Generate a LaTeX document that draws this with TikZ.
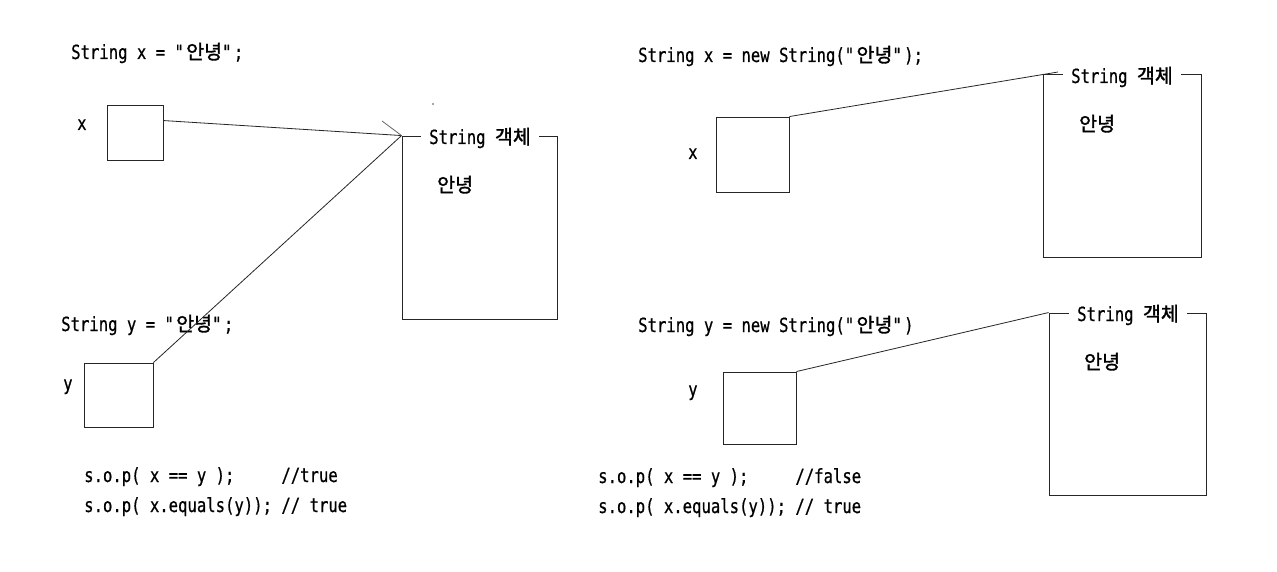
\documentclass[tikz,border=0pt]{standalone}
\usepackage{fontspec}
\setmainfont{DejaVu Sans Mono}[FakeStretch=0.8,FakeBold=0.6]
\newfontfamily\krfont{Noto Sans CJK KR}[Scale=1.0,FakeBold=1.6]
\newcommand\kr[1]{{\krfont #1}}
\newcommand\q{\textquotedbl}
\begin{document}
\begin{tikzpicture}[x=1pt,y=-1pt,font=\fontsize{19.5}{23}\selectfont,
  txt/.style={anchor=base west,inner sep=0pt,text=black},
  var/.style={draw=black!85,line width=0.9pt,inner sep=0pt},
  obj/.style={draw=black!85,line width=0.9pt,inner sep=0pt},
  ttl/.style={anchor=base west,fill=white,inner xsep=8pt,inner ysep=1pt,text=black},
  link/.style={draw=black!85,line width=0.8pt}]
\fill[white] (0,0) rectangle (1277,572);
\useasboundingbox (0,0) rectangle (1277,572);

% ---------- left panel ----------
\node[txt] (lxdecl) at (71,59) {String x = \q\kr{안녕}\q;};
\node[txt] (lxlab) at (77,130) {x};
\node[var,minimum width=56pt,minimum height=55pt] (lx) at (135,132.5) {};

\node[obj,minimum width=155pt,minimum height=183pt] (lo) at (479.5,227.5) {};
\node[ttl] (lot) at (421,144) {String \kr{객체}};
\node[txt] (loval) at (437,192) {\kr{안녕}};

\node[txt] (lydecl) at (61,331) {String y = \q\kr{안녕}\q;};
\node[txt] (lylab) at (63,390) {y};
\node[var,minimum width=69pt,minimum height=64pt] (ly) at (118.5,395) {};

\node[txt] (lc1) at (84,482) {s.o.p(~x~==~y~);~~~~~//true};
\node[txt] (lc2) at (84,512) {s.o.p(~x.equals(y));~//~true};

\coordinate (tick) at (382,121);
\coordinate (dot) at (433,104);
\draw[link] ([yshift=-16pt]lx.north east) -- (lo.north west);
\draw[link] (ly.north east) -- (lo.north west);
\draw[link,draw=black!60] (tick) -- (lo.north west);
\fill[black!70] (dot) circle (0.8pt);

% ---------- right panel ----------
\node[txt] (rxdecl) at (638,62) {String x = new String(\q\kr{안녕}\q);};
\node[txt] (rxlab) at (688,159) {x};
\node[var,minimum width=73pt,minimum height=75pt] (rx) at (752.5,154.5) {};

\node[obj,minimum width=158pt,minimum height=183pt] (ro1) at (1122,165.5) {};
\node[ttl] (ro1t) at (1063,83) {String \kr{객체}};
\node[txt] (ro1val) at (1079,131) {\kr{안녕}};

\node[txt] (rydecl) at (638,332) {String y = new String(\q\kr{안녕}\q)};
\node[txt] (rylab) at (688,396) {y};
\node[var,minimum width=73pt,minimum height=72pt] (ry) at (759.5,408) {};

\node[obj,minimum width=157pt,minimum height=182pt] (ro2) at (1127.5,404) {};
\node[ttl] (ro2t) at (1069,321) {String \kr{객체}};
\node[txt] (ro2val) at (1084,369) {\kr{안녕}};

\node[txt] (rc1) at (598,483) {s.o.p(~x~==~y~);~~~~~//false};
\node[txt] (rc2) at (598,513) {s.o.p(~x.equals(y));~//~true};

\coordinate (ro1end) at (1058,72);
\draw[link] (rx.north east) -- (ro1end);
\draw[link] (ry.north east) -- (ro2.north west);
\end{tikzpicture}
\end{document}
